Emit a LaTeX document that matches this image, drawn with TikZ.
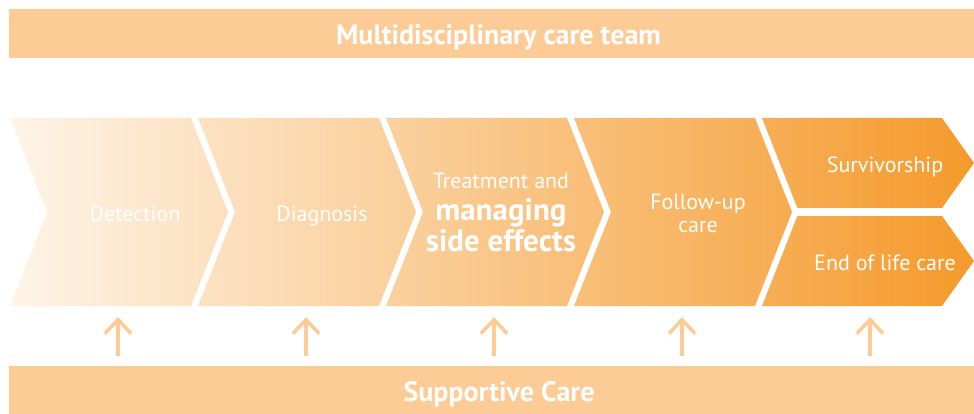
\documentclass[tikz,border=0pt]{standalone}
\usepackage{fontspec}
\setmainfont{PT Sans}
\usetikzlibrary{arrows.meta}
\definecolor{barfill}{HTML}{FDCB95}
\definecolor{stepleft}{HTML}{FEF4E8}
\definecolor{stepright}{HTML}{F59A2C}
\newcommand\stepTop{118}
\newcommand\stepBot{306}
\newcommand\stepMid{212}
\newcommand\stepPitch{188}
\newcommand\stepWidth{181}
\newcommand\tipDepth{37}

\begin{document}
\begin{tikzpicture}[x=1pt,y=-1pt,
    bar/.style={fill=barfill,draw=none},
    bartext/.style={text=white,anchor=base,font=\fontsize{28}{30}\selectfont\bfseries},
    steptext/.style={text=white,align=center,anchor=base,font=\fontsize{22}{24}\selectfont},
    uparrow/.style={draw=barfill,line width=3.5pt,-{Straight Barb[length=14pt,width=26pt]}}]
  \useasboundingbox (0,0) rectangle (974,414);
  \clip (0,0) rectangle (974,414);

  % top and bottom bars
  \fill[bar] (9,9) rectangle (980,58);
  \fill[bar] (9,366) rectangle (980,420);
  \node[bartext] (team) at (498.5,44.3) {Multidisciplinary care team};
  \node[bartext] (support) at (499,401.7) {Supportive Care};

  % the chevrons, one shading for all of them
  \path[left color=stepleft,right color=stepright]
    foreach \i in {0,...,3} {
      (10+\i*\stepPitch,\stepTop) -- ++(\stepWidth,0) -- ++(\tipDepth,\stepMid-\stepTop)
      -- (10+\i*\stepPitch+\stepWidth,\stepBot) -- (10+\i*\stepPitch,\stepBot)
      -- (10+\i*\stepPitch+\tipDepth,\stepMid) -- cycle
    }
    (762,\stepTop) -- (942,\stepTop) -- (974,163) -- (942,208) -- (797.4,208) -- cycle
    (797.4,216) -- (942,216) -- (974,261) -- (942,\stepBot) -- (762,\stepBot) -- cycle;

  \node[steptext] (detect) at (135,222) {Detection};
  \node[steptext] (diag) at (322,222) {Diagnosis};
  \node[steptext,font=\fontsize{22}{31.7}\selectfont] (treat) at (501,251.7)
    {Treatment and\\{\fontsize{31}{31}\selectfont\bfseries managing}\\{\fontsize{31}{31}\selectfont\bfseries side effects}};
  \node[steptext] (follow) at (698,233) {Follow-up\\care};
  \node[steptext] (surv) at (885,173) {Survivorship};
  \node[steptext] (endlife) at (885,270) {End of life care};

  % arrows from supportive care up to the steps
  \foreach \i in {0,...,4} {
    \coordinate (a\i) at (118+\i*\stepPitch,356);
    \coordinate (b\i) at (118+\i*\stepPitch,317);
    \draw[uparrow] (a\i) -- (b\i);
  }
\end{tikzpicture}
\end{document}
